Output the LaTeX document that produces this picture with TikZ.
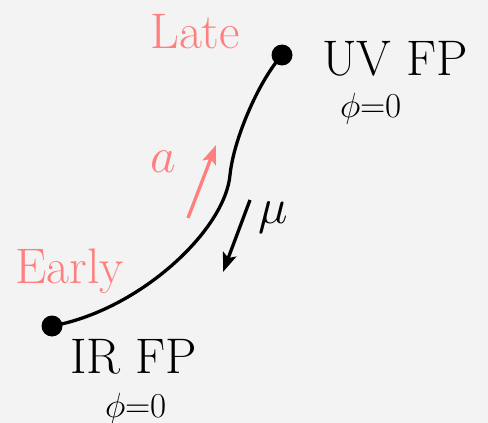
\RequirePackage{fix-cm}
\documentclass[tikz,border=0pt]{standalone}
\usetikzlibrary{arrows.meta}
\definecolor{bgc}{HTML}{F3F3F3}
\definecolor{pinkc}{HTML}{FF7F7F}
\tikzset{
  lbl/.style={inner sep=0pt, anchor=base west, font=\fontsize{50}{56}\selectfont},
  small/.style={inner sep=0pt, anchor=base west, font=\fontsize{35}{40}\selectfont},
  dotnode/.style={circle, fill=black, minimum size=21pt, inner sep=0pt},
  curveline/.style={line width=3.3pt, black},
  flowarrow/.style={line width=3.3pt, -{Stealth[length=19pt,width=14pt,inset=4pt]}},
}
\begin{document}
\begin{tikzpicture}[x=1pt,y=-1pt]
\fill[bgc] (0,0) rectangle (488,423);
\useasboundingbox (0,0) rectangle (488,423);
% fixed points
\node[dotnode] (ir) at (52,326) {};
\node[dotnode] (uv) at (282,55) {};
\coordinate (mid) at (230,175);
\draw[curveline] (ir.center) .. controls (140,310) and (225,230) .. (mid)
  .. controls (233.5,140) and (258,82) .. (uv.center);
% labels
\node[lbl, text=pinkc] (late) at (150,48) {Late};
\node[lbl] (uvlbl) at (322,75) {UV FP};
\node[small] (uvphi) at (340,117) {$\phi$=0};
\node[lbl, text=pinkc] (early) at (15,283) {Early};
\node[lbl] (irlbl) at (70,373) {IR FP};
\node[small] (irphi) at (105,417) {$\phi$=0};
% arrows
\coordinate (pa1) at (188,218);
\coordinate (pa2) at (216,145);
\draw[flowarrow, pinkc] (pa1) -- (pa2);
\coordinate (ba1) at (250,200);
\coordinate (ba2) at (223,272);
\draw[flowarrow, black] (ba1) -- (ba2);
\node[lbl, text=pinkc] (alab) at (150,172) {$a$};
\node[lbl] (mulab) at (258,223) {$\mu$};
\end{tikzpicture}
\end{document}
